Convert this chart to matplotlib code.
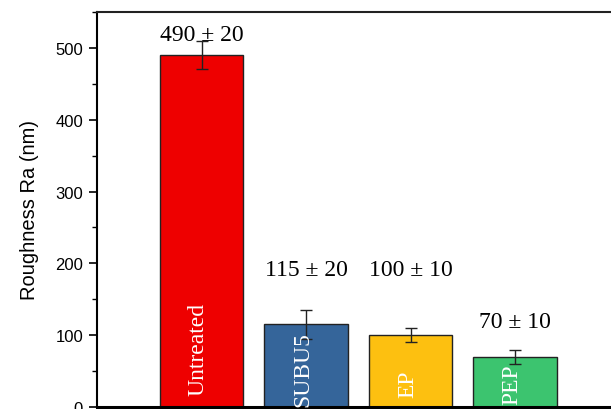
import matplotlib
matplotlib.use("Agg")
import matplotlib.pyplot as plt
from matplotlib.ticker import MultipleLocator

categories = ["Untreated", "SUBU5", "EP", "PEP"]
values = [490, 115, 100, 70]
errors = [20, 20, 10, 10]
labels = ["490 ± 20", "115 ± 20", "100 ± 10", "70 ± 10"]
colors = ["#EE0000", "#35659A", "#FDC010", "#3CC46F"]
label_y = [511, 184, 184, 112]
inbar_y = [81, 53, 33, 32]

fig = plt.figure(figsize=(6.11, 4.10), dpi=100)
ax = fig.add_axes([97/611, 2/410, 522.5/611, 395/410])

x = [1, 2, 3, 4]
ax.bar(x, values, width=0.8, color=colors, edgecolor="#222222", linewidth=1.0, zorder=2)
ax.errorbar(x, values, yerr=errors, fmt="none", ecolor="#222222", elinewidth=1.0,
            capsize=4.5, capthick=1.0, zorder=3)

for xi, lab, ly in zip(x, labels, label_y):
    ax.text(xi, ly, lab, ha="center", va="baseline", fontsize=17,
            family="Liberation Serif", color="black", zorder=4)
for xi, cat, iy in zip(x, categories, inbar_y):
    ax.text(xi - 0.03, iy, cat, ha="center", va="center", rotation=90, fontsize=17,
            family="Liberation Serif", color="white", zorder=4)

ax.set_xlim(0, 5)
ax.set_ylim(0, 550)
ax.yaxis.set_major_locator(MultipleLocator(100))
ax.yaxis.set_minor_locator(MultipleLocator(50))
ax.tick_params(axis="y", which="major", direction="out", length=6, width=1.2,
               labelsize=12, pad=4)
ax.tick_params(axis="y", which="minor", direction="out", length=3.5, width=1.0)
ax.set_xticks([])
for lab in ax.get_yticklabels():
    lab.set_family("Liberation Sans")
ax.set_ylabel("Roughness Ra (nm)", fontsize=14.5, family="Liberation Sans", labelpad=12)

ax.spines["left"].set_linewidth(1.5)
ax.spines["top"].set_linewidth(1.5)
ax.spines["top"].set_color("#222222")
ax.spines["bottom"].set_linewidth(2.2)
ax.spines["right"].set_visible(False)

fig.savefig("out.png", dpi=100)
